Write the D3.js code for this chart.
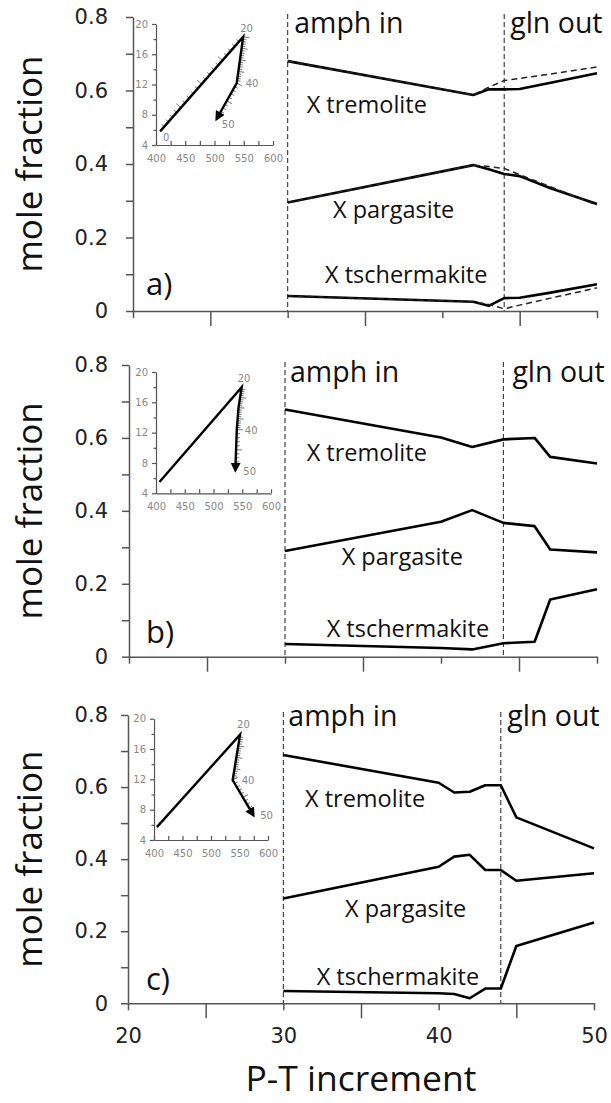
<!DOCTYPE html>
<meta charset="utf-8">
<html>
<head>
<script src="https://d3js.org/d3.v7.min.js"></script>
<style>
  body { margin: 0; background: white; }
  .lbl { font-family: "Open Sans", sans-serif; fill: #111; }
  .num text { font-family: "DejaVu Sans", sans-serif; fill: #222; }
  .inset text { font-family: "DejaVu Sans", sans-serif; fill: #888; font-size: 10px; }
</style>
</head>
<body>
<div id="chart"></div>
<script>
// ---- data ---------------------------------------------------------------
const seriesNames = ["X tremolite", "X pargasite", "X tschermakite"];
const xTicks = [20, 25, 30, 35, 40, 45, 50];
const yTicks = [0, 0.1, 0.2, 0.3, 0.4, 0.5, 0.6, 0.7, 0.8];
const boundaries = [30, 44];  // amph in, gln out

// panel a (solid = model 1, dashed = model 2)
const incA = [30, 42, 43, 44, 45, 47, 50];
const tremA = [0.680, 0.588, 0.603, 0.603, 0.604, 0.621, 0.647];
const pargA = [0.295, 0.397, 0.386, 0.373, 0.367, 0.334, 0.291];
const tschA = [0.041, 0.025, 0.014, 0.035, 0.036, 0.050, 0.073];
const tremA2 = [0.680, 0.588, 0.609, 0.627, 0.633, 0.645, 0.664];
const pargA2 = [0.295, 0.397, 0.393, 0.388, 0.371, 0.338, 0.288];
const tschA2 = [0.041, 0.025, 0.018, 0.006, 0.016, 0.035, 0.063];

// panel b
const incB = [30, 40, 42, 44, 46, 47, 50];
const tremB = [0.678, 0.601, 0.575, 0.596, 0.600, 0.548, 0.530];
const pargB = [0.290, 0.370, 0.402, 0.367, 0.358, 0.294, 0.286];
const tschB = [0.035, 0.024, 0.020, 0.037, 0.041, 0.157, 0.185];

// panel c
const incC = [30, 40, 41, 42, 43, 44, 45, 50];
const tremC = [0.689, 0.612, 0.585, 0.587, 0.605, 0.605, 0.516, 0.430];
const pargC = [0.291, 0.379, 0.407, 0.412, 0.370, 0.370, 0.340, 0.361];
const tschC = [0.034, 0.028, 0.026, 0.014, 0.041, 0.041, 0.159, 0.224];

// inset P-T paths (T in C, P in kbar) at increments
const pathIncA = [0, 20, 40, 50];
const pathTA = [407, 549, 538, 504];
const pathPA = [5.8, 18.3, 12.2, 7.5];
const pathIncB = [0, 20, 30, 40, 50];
const pathTB = [406, 549, 543.5, 540.5, 538];
const pathPB = [5.5, 18.0, 15.3, 12.4, 7.1];
const pathIncC = [0, 20, 40, 50];
const pathTC = [405, 551, 538, 574];
const pathPC = [5.7, 17.9, 11.9, 7.3];
const insetXTicks = [400, 425, 450, 475, 500, 525, 550, 575, 600];
const insetYTicks = [4, 6, 8, 10, 12, 14, 16, 18, 20];

// ---- layout ---------------------------------------------------------------
const panels = [
  { letter: "a)", x20: 133, x50: 597, y0: 311, y8: 17, inc: incA,
    solid: [tremA, pargA, tschA], dashed: [tremA2, pargA2, tschA2],
    letterPos: [146, 295], textDy: 16, amphDx: 6.5, glnDx: 6,
    namePos: [[306.7, 113], [333, 218], [325, 283]], xLabels: false,
    inset: { x400: 156, x600: 273, y4: 145, y20: 24, inc: pathIncA, T: pathTA, P: pathPA, tickFrom: 1,
      labels: [[0, 3, 9.5], [20, -3, -5], [40, 9, 4], [50, 5, 9]] } },
  { letter: "b)", x20: 129, x50: 597, y0: 656.7, y8: 365, inc: incB,
    solid: [tremB, pargB, tschB], dashed: [],
    letterPos: [146, 643], textDy: 16.5, amphDx: 5, glnDx: 9,
    namePos: [[306.7, 460.7], [341.7, 565], [326.7, 636.7]], xLabels: false,
    inset: { x400: 156, x600: 271, y4: 493.3, y20: 372, inc: pathIncB, T: pathTB, P: pathPB, tickFrom: 21,
      labels: [[20, -4, -5], [40, 8, 4], [50, 8, 5]] } },
  { letter: "c)", x20: 128, x50: 594, y0: 1003.3, y8: 715, inc: incC,
    solid: [tremC, pargC, tschC], dashed: [],
    letterPos: [146, 990], textDy: 10.5, amphDx: 5, glnDx: 6.5,
    namePos: [[305, 806.7], [345, 916.7], [316.7, 985]], xLabels: true,
    inset: { x400: 154, x600: 268, y4: 840, y20: 718.7, inc: pathIncC, T: pathTC, P: pathPC, tickFrom: 21,
      labels: [[20, -3, -7], [40, 9, 4], [50, 7, 4]] } }
];

const svg = d3.select("#chart").append("svg")
  .attr("width", 611).attr("height", 1103);

svg.append("defs").append("marker")
  .attr("id", "arrow")
  .attr("viewBox", "0 0 10 10")
  .attr("refX", 7).attr("refY", 5)
  .attr("markerUnits", "userSpaceOnUse")
  .attr("markerWidth", 10).attr("markerHeight", 10)
  .attr("orient", "auto")
  .append("path").attr("d", "M0,0L10,5L0,10z").attr("fill", "#000");

function drawPanel(p) {
  const x = d3.scaleLinear().domain([20, 50]).range([p.x20, p.x50]);
  const y = d3.scaleLinear().domain([0, 0.8]).range([p.y0, p.y8]);
  const g = svg.append("g");

  // y axis
  const yAxis = d3.axisLeft(y)
    .tickValues(yTicks)
    .tickSize(7).tickSizeOuter(0)
    .tickPadding(p.x20 - 108 - 7)
    .tickFormat(v => Math.round(v * 10) % 2 ? "" : (v === 0 ? "0" : v.toFixed(1)));
  const ya = g.append("g").attr("class", "num")
    .attr("transform", `translate(${p.x20},0)`).call(yAxis);
  ya.selectAll("text").style("font-size", "21px");

  // x axis
  const xAxis = d3.axisBottom(x)
    .tickValues(xTicks)
    .tickSize(7).tickSizeOuter(0).tickPadding(18)
    .tickFormat(v => p.xLabels && v % 10 === 0 ? v : "");
  const xa = g.append("g").attr("class", "num")
    .attr("transform", `translate(0,${p.y0})`).call(xAxis);
  xa.selectAll(".tick line").attr("y2", d => d % 10 === 5 ? 15 : 7);
  xa.selectAll("text").style("font-size", "21px");

  g.selectAll(".num path, .num line").attr("stroke", "#555").attr("stroke-width", 1.5);

  // phase boundaries
  g.selectAll(".bound").data(boundaries).join("line")
    .attr("x1", d => x(d)).attr("x2", d => x(d))
    .attr("y1", y(0.8) - 3).attr("y2", p.y0)
    .attr("stroke", "#333").attr("stroke-width", 1.1)
    .attr("stroke-dasharray", "5,3");

  g.append("text").attr("class", "lbl")
    .attr("x", x(30) + p.amphDx).attr("y", y(0.8) + p.textDy)
    .style("font-size", "28.5px").text("amph in");
  g.append("text").attr("class", "lbl")
    .attr("x", x(44) + p.glnDx).attr("y", y(0.8) + p.textDy)
    .style("font-size", "28.5px").text("gln out");

  // series
  const line = d3.line().x(d => x(d.t)).y(d => y(d.v));
  p.solid.forEach(vals => {
    g.append("path")
      .datum(p.inc.map((t, i) => ({ t: t, v: vals[i] })))
      .attr("d", line)
      .attr("fill", "none").attr("stroke", "#000")
      .attr("stroke-width", 2.6).attr("stroke-linejoin", "round");
  });
  p.dashed.forEach(vals => {
    g.append("path")
      .datum(p.inc.map((t, i) => ({ t: t, v: vals[i] })))
      .attr("d", line)
      .attr("fill", "none").attr("stroke", "#222")
      .attr("stroke-width", 1.5).attr("stroke-dasharray", "6,4");
  });

  seriesNames.forEach((name, i) => {
    g.append("text").attr("class", "lbl")
      .attr("x", p.namePos[i][0]).attr("y", p.namePos[i][1])
      .style("font-size", "23.5px").text(name);
  });

  g.append("text").attr("class", "lbl")
    .attr("x", p.letterPos[0]).attr("y", p.letterPos[1])
    .style("font-size", "31px").text(p.letter);

  // y title
  g.append("text").attr("class", "lbl")
    .attr("transform", `translate(42,${y(0.4)}) rotate(-90)`)
    .attr("text-anchor", "middle")
    .style("font-size", "35px").text("mole fraction");

  if (p.xLabels) {
    g.append("text").attr("class", "lbl")
      .attr("x", x(35)).attr("y", 1091)
      .attr("text-anchor", "middle")
      .style("font-size", "35.5px").text("P-T increment");
  }

  drawInset(p.inset);
}

function drawInset(s) {
  const ix = d3.scaleLinear().domain([400, 600]).range([s.x400, s.x600]);
  const iy = d3.scaleLinear().domain([4, 20]).range([s.y4, s.y20]);
  const g = svg.append("g").attr("class", "inset");

  const xa = g.append("g").attr("transform", `translate(0,${s.y4})`)
    .call(d3.axisBottom(ix).tickValues(insetXTicks).tickSize(-4).tickSizeOuter(0)
      .tickPadding(10).tickFormat(v => v % 50 === 0 ? v : ""));
  const ya = g.append("g").attr("transform", `translate(${s.x400},0)`)
    .call(d3.axisLeft(iy).tickValues(insetYTicks).tickSize(4).tickSizeOuter(0)
      .tickPadding(4).tickFormat(v => v % 4 === 0 ? v : ""));
  ya.selectAll(".tick line").attr("x2", d => d % 4 === 0 ? -4 : -2.5);
  g.selectAll("path.domain, .tick line").attr("stroke", "#555").attr("stroke-width", 1.2);

  // P-T path, positions of each increment from a piecewise scale
  const tAt = d3.scaleLinear().domain(s.inc).range(s.T);
  const pAt = d3.scaleLinear().domain(s.inc).range(s.P);
  const pts = s.inc.map((k, i) => [ix(s.T[i]), iy(s.P[i])]);

  const ticks = d3.range(s.tickFrom, 50).map(k => {
    let j = d3.bisectRight(s.inc, k) - 1;
    j = Math.max(0, Math.min(j, s.inc.length - 2));
    const dx = pts[j + 1][0] - pts[j][0], dy = pts[j + 1][1] - pts[j][1];
    const len = Math.hypot(dx, dy);
    let nx = dy / len, ny = -dx / len;
    if ((k < 20 && nx > 0) || (k >= 20 && nx < 0)) { nx = -nx; ny = -ny; }
    const L = k % 5 === 0 ? 6 : 3.5;
    const px = ix(tAt(k)), py = iy(pAt(k));
    return { x1: px, y1: py, x2: px + nx * L, y2: py + ny * L };
  });
  g.selectAll(".inc").data(ticks).join("line")
    .attr("x1", d => d.x1).attr("y1", d => d.y1)
    .attr("x2", d => d.x2).attr("y2", d => d.y2)
    .attr("stroke", "#666").attr("stroke-width", 0.9);

  g.append("path")
    .attr("d", d3.line()(pts))
    .attr("fill", "none").attr("stroke", "#000")
    .attr("stroke-width", 2.4).attr("stroke-linejoin", "miter")
    .attr("marker-end", "url(#arrow)");

  s.labels.forEach(([k, dx, dy]) => {
    g.append("text")
      .attr("x", ix(tAt(k)) + dx).attr("y", iy(pAt(k)) + dy)
      .text(k);
  });
}

panels.forEach(drawPanel);
</script>
</body>
</html>
